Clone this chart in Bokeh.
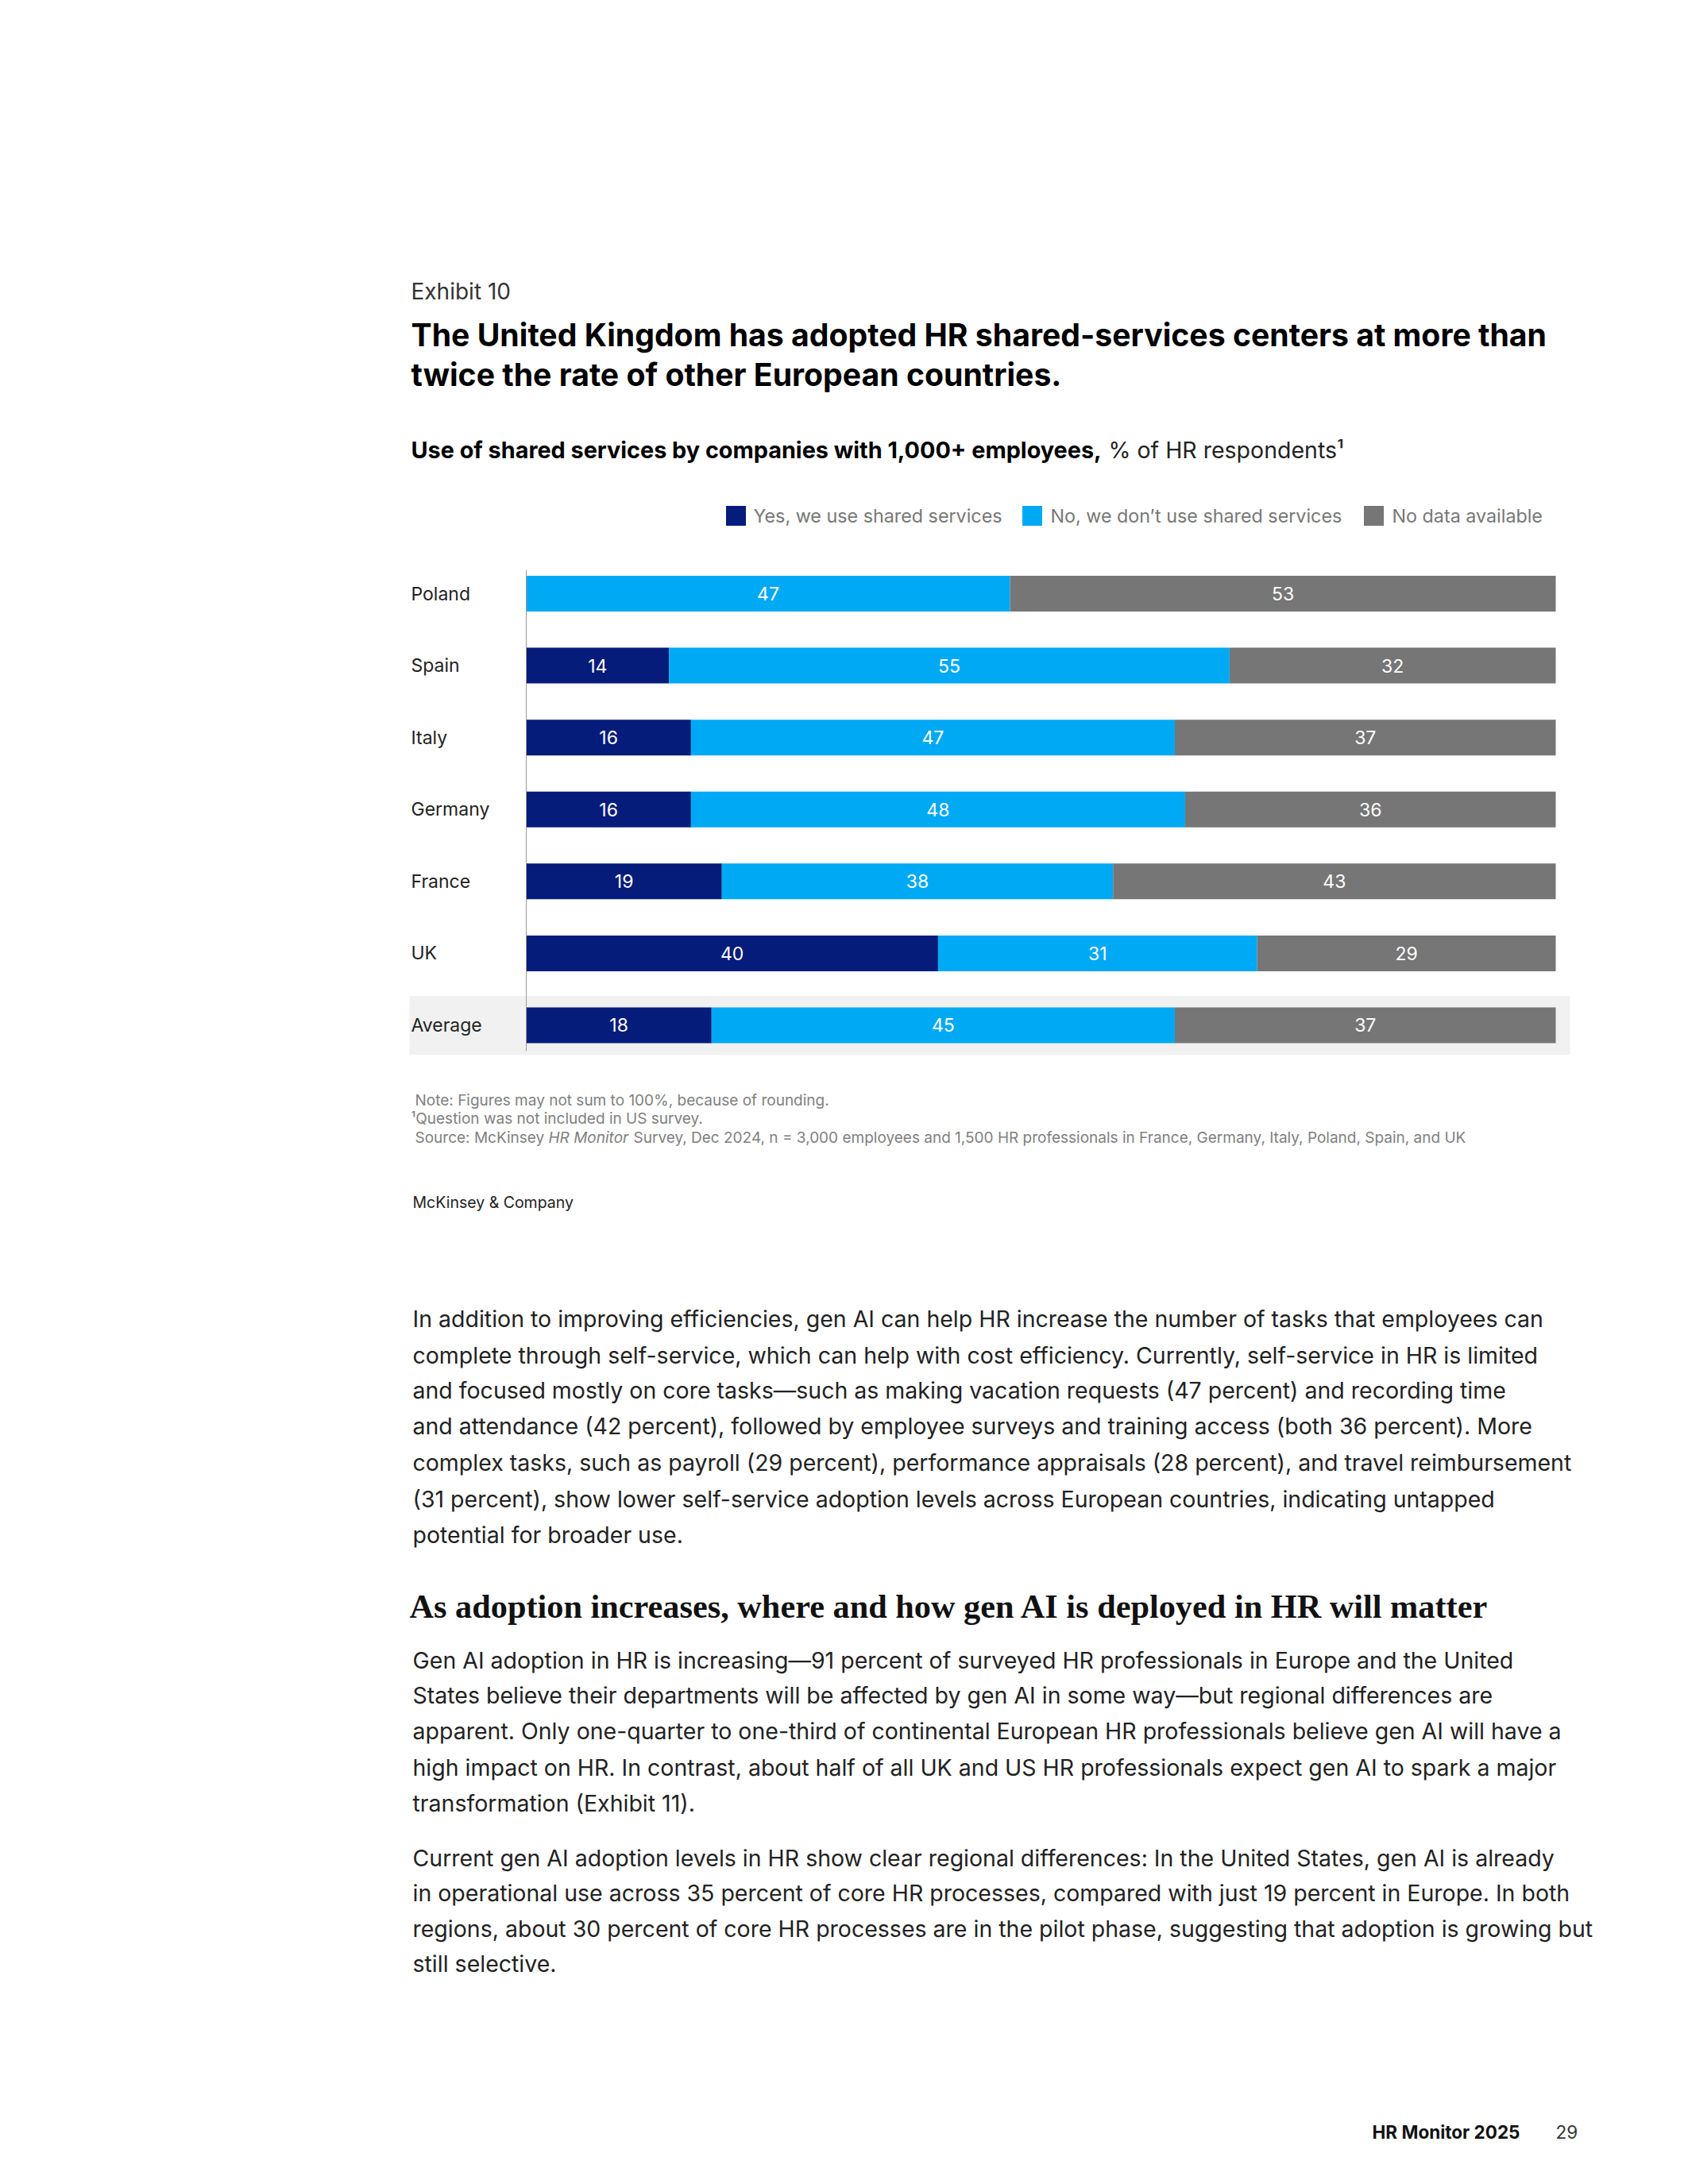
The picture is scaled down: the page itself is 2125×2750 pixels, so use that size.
from bokeh.plotting import figure
from bokeh.models import Range1d, ColumnDataSource
from bokeh.embed import file_html
from bokeh.resources import INLINE
from bokeh.core.properties import value
import numpy as np

# ---------------- data ----------------
categories = ["Poland", "Spain", "Italy", "Germany", "France", "UK", "Average"]
yes_vals = [0, 14, 16, 16, 19, 40, 18]
no_vals = [47, 55, 47, 48, 38, 31, 45]
nodata_vals = [53, 32, 37, 36, 43, 29, 37]
series_names = ["Yes, we use shared services", "No, we don’t use shared services", "No data available"]
series_colors = ["#051C7A", "#00A9F4", "#767676"]

# ---------------- page geometry ----------------
W, H = 2109, 2734
OFF = 0
X0_PX, X100_PX = 662, 1958
ROW0_PX, ROW_STEP = 747, 90.58
PXU = (X100_PX - X0_PX) / 100.0

def px2x(px):
    return (px - X0_PX) / PXU

def py2y(py):
    return (py - ROW0_PX) / ROW_STEP

FONT = "Inter"

p = figure(width=W, height=H,
           x_range=Range1d(px2x(OFF), px2x(OFF + W)),
           y_range=Range1d(py2y(OFF + H), py2y(OFF)),
           x_axis_type=None, y_axis_type=None,
           output_backend="svg", toolbar_location=None,
           min_border=0, outline_line_color=None)
p.grid.visible = False
p.background_fill_color = "white"
p.border_fill_color = "white"

def txt(x_px, y_px, s, size, color="#222222", style="normal", align="left", font=FONT):
    p.text(x=[px2x(x_px)], y=[py2y(y_px)], text=[s],
           text_font=value(font), text_font_size=f"{size}px", text_font_style=style,
           text_color=color, text_align=align, text_baseline="middle")

# ---------------- header ----------------
txt(517, 366, "Exhibit 10", 28, "#333333")
txt(517, 421, "The United Kingdom has adopted HR shared-services centers at more than", 39.2, "#000000", "bold")
txt(517, 471, "twice the rate of other European countries.", 39.2, "#000000", "bold")
txt(517, 566, "Use of shared services by companies with 1,000+ employees,", 28.8, "#000000", "bold")
txt(1395, 566, "% of HR respondents¹", 28.5, "#222222")

# ---------------- legend ----------------
leg_sq_px = [926, 1299, 1729]
leg_tx_px = [948, 1322, 1752]
for i, name in enumerate(series_names):
    p.rect(x=[px2x(leg_sq_px[i])], y=[py2y(649)], width=25, height=25,
           width_units="screen", height_units="screen",
           fill_color=series_colors[i], line_color=None)
    txt(leg_tx_px[i], 649, name, 23.3, "#777777")

# ---------------- chart ----------------
idx = np.arange(len(categories))
# highlight band behind the Average row
p.quad(left=[px2x(515)], right=[px2x(1976)],
       bottom=[idx[-1] + 37 / ROW_STEP], top=[idx[-1] - 37 / ROW_STEP],
       fill_color="#F1F1F1", line_color=None)

vals = np.array([yes_vals, no_vals, nodata_vals], dtype=float)
norm = vals / vals.sum(axis=0) * 100.0
rights = np.cumsum(norm, axis=0)
lefts = rights - norm

for k in range(3):
    src = ColumnDataSource(dict(y=idx, left=lefts[k], right=rights[k]))
    p.hbar(y="y", left="left", right="right", height=45 / ROW_STEP, source=src,
           fill_color=series_colors[k], line_color=None)
    mask = vals[k] > 0
    lab = ColumnDataSource(dict(x=((lefts[k] + rights[k]) / 2)[mask], y=idx[mask],
                                t=[str(int(v)) for v in vals[k][mask]]))
    p.text(x="x", y="y", text="t", source=lab, text_font=value(FONT),
           text_font_size="23px", text_color="white", text_align="center",
           text_baseline="middle")

# axis line
p.segment(x0=[0], x1=[0], y0=[py2y(717)], y1=[py2y(1323)], line_color="#9A9A9A", line_width=1)

# category labels
p.text(x=[px2x(517)] * len(categories), y=idx, text=categories,
       text_font=value(FONT), text_font_size="23px", text_color="#222222",
       text_align="left", text_baseline="middle")

# ---------------- notes ----------------
txt(522, 1385, "Note: Figures may not sum to 100%, because of rounding.", 19, "#808080")
txt(517, 1408, "¹Question was not included in US survey.", 19, "#808080")
txt(522, 1432, "Source: McKinsey", 19, "#808080")
txt(690, 1432, "HR Monitor", 19, "#808080", "italic")
txt(797, 1432, "Survey, Dec 2024, n = 3,000 employees and 1,500 HR professionals in France, Germany, Italy, Poland, Spain, and UK", 19, "#808080")
txt(519, 1513, "McKinsey & Company", 19.5, "#222222")

# ---------------- body text ----------------
BODY = 28.5
para1 = [
    "In addition to improving efficiencies, gen AI can help HR increase the number of tasks that employees can",
    "complete through self-service, which can help with cost efficiency. Currently, self-service in HR is limited",
    "and focused mostly on core tasks—such as making vacation requests (47 percent) and recording time",
    "and attendance (42 percent), followed by employee surveys and training access (both 36 percent). More",
    "complex tasks, such as payroll (29 percent), performance appraisals (28 percent), and travel reimbursement",
    "(31 percent), show lower self-service adoption levels across European countries, indicating untapped",
    "potential for broader use.",
]
para1_y = [1660, 1706, 1750, 1795, 1841, 1887, 1932]
for s, y in zip(para1, para1_y):
    txt(519, y, s, BODY, "#222222")

txt(515, 2022, "As adoption increases, where and how gen AI is deployed in HR will matter", 42.3,
    "#111111", "bold", font="Liberation Serif")

para2 = [
    "Gen AI adoption in HR is increasing—91 percent of surveyed HR professionals in Europe and the United",
    "States believe their departments will be affected by gen AI in some way—but regional differences are",
    "apparent. Only one-quarter to one-third of continental European HR professionals believe gen AI will have a",
    "high impact on HR. In contrast, about half of all UK and US HR professionals expect gen AI to spark a major",
    "transformation (Exhibit 11).",
]
para2_y = [2090, 2134, 2179, 2225, 2270]
for s, y in zip(para2, para2_y):
    txt(519, y, s, BODY, "#222222")

para3 = [
    "Current gen AI adoption levels in HR show clear regional differences: In the United States, gen AI is already",
    "in operational use across 35 percent of core HR processes, compared with just 19 percent in Europe. In both",
    "regions, about 30 percent of core HR processes are in the pilot phase, suggesting that adoption is growing but",
    "still selective.",
]
para3_y = [2339, 2383, 2428, 2472]
for s, y in zip(para3, para3_y):
    txt(519, y, s, BODY, "#222222")

# ---------------- footer ----------------
txt(1727, 2684, "HR Monitor 2025", 22.5, "#111111", "bold")
txt(1958, 2684, "29", 22.5, "#333333")

open("out.html", "w").write(file_html(p, INLINE))
